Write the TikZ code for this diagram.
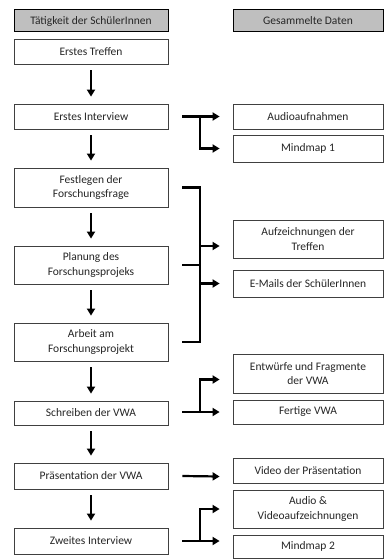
\documentclass[tikz,border=0pt]{standalone}
\usepackage{fontspec}
\setmainfont{Carlito}
\usepackage{tikz}
\usetikzlibrary{positioning, arrows.meta}
\tikzset{
    kasten/.style   = {draw=black!75, line width=0.8pt, fill=white, align=center,
                       inner sep=1pt, font=\fontsize{11.5}{14.5}\selectfont,
                       text=black!85},
    taetig/.style   = {kasten, minimum width=154pt},
    daten/.style    = {kasten, minimum width=150pt},
    kopf/.style     = {draw=black, line width=1pt, fill=black!25},
    pfeil/.style    = {-{Triangle[length=7pt, width=8pt]}, line width=2.2pt},
    strich/.style   = {line width=2.2pt},
    abwaerts/.style = {-{Triangle[length=7pt, width=8pt]}, line width=2pt}
}

\begin{document}
\begin{tikzpicture}[x=1pt, y=-1pt]
        \useasboundingbox (0,0) rectangle (384,559);

        % --- Tätigkeiten ---
        \node[taetig, kopf, minimum height=22pt] (kl) at (91,21)    {Tätigkeit der SchülerInnen};
        \node[taetig, minimum height=25pt] (t1) at (91,51.5)  {Erstes Treffen};
        \node[taetig, minimum height=25pt] (t2) at (91,116.5) {Erstes Interview};
        \node[taetig, minimum height=39pt] (t3) at (91,187.5) {Festlegen der\\Forschungsfrage};
        \node[taetig, minimum height=38pt] (t4) at (91,265)   {Planung des\\Forschungsprojeks};
        \node[taetig, minimum height=38pt] (t5) at (91,342)   {Arbeit am\\Forschungsprojekt};
        \node[taetig, minimum height=24pt] (t6) at (91,413)   {Schreiben der VWA};
        \node[taetig, minimum height=26pt] (t7) at (91,476)   {Präsentation der VWA};
        \node[taetig, minimum height=26pt] (t8) at (91,541)   {Zweites Interview};

        \foreach \a/\b in {t1/t2, t2/t3, t3/t4, t4/t5, t5/t6, t6/t7, t7/t8}
            \draw[abwaerts] ([yshift=-6pt]\a.south) -- ([yshift=7pt]\b.north);

        % --- Daten ---
        \node[daten, kopf, minimum height=22pt] (kr) at (308,21)    {Gesammelte Daten};
        \node[daten, minimum height=25pt] (d1) at (308,116.5) {Audioaufnahmen};
        \node[daten, minimum height=27pt] (d2) at (308,148.5) {Mindmap 1};
        \node[daten, minimum height=38pt] (d3) at (308,239)   {Aufzeichnungen der\\Treffen};
        \node[daten, minimum height=27pt] (d4) at (308,283.5) {E-Mails der SchülerInnen};
        \node[daten, minimum height=39pt] (d5) at (308,373.5) {Entwürfe und Fragmente\\der VWA};
        \node[daten, minimum height=24pt] (d6) at (308,412)   {Fertige VWA};
        \node[daten, minimum height=25pt] (d7) at (308,470.5) {Video der Präsentation};
        \node[daten, minimum height=38pt] (d8) at (308,509)   {Audio \&\\Videoaufzeichnungen};
        \node[daten, minimum height=23pt] (d9) at (308,546.5) {Mindmap 2};

        % --- Verbindungen ---
        \coordinate (v2) at (200,116.5);
        \draw[pfeil] ([xshift=14pt]t2.east) -- ([xshift=-13pt]d1.west);
        \draw[pfeil] (v2) |- ([xshift=-13pt]d2.west);

        \coordinate (v3) at (200,187.5);
        \coordinate (v5) at (200,342);
        \draw[strich] ([xshift=14pt]t3.east) -- (v3) -- (v5) -- ([xshift=14pt]t5.east);
        \draw[strich] ([xshift=14pt]t4.east) -- (200,265);
        \draw[pfeil] (200,246) -- ([xshift=-13pt, yshift=-7pt]d3.west);
        \draw[pfeil] (200,283.5) -- ([xshift=-13pt]d4.west);

        \coordinate (v6) at (200,412);
        \draw[pfeil] ([xshift=14pt]t6.east |- v6) -- ([xshift=-13pt]d6.west);
        \draw[pfeil] (v6) |- ([xshift=-13pt, yshift=-6pt]d5.west);

        \draw[pfeil] ([xshift=14pt]t7.east) -- ([xshift=-13pt, yshift=-6pt]d7.west);

        \coordinate (v8) at (200,541);
        \draw[pfeil] ([xshift=14pt]t8.east) -- ([xshift=-13pt]d9.west |- v8);
        \draw[pfeil] (v8) |- ([xshift=-13pt]d8.west);
    \end{tikzpicture}
\end{document}
